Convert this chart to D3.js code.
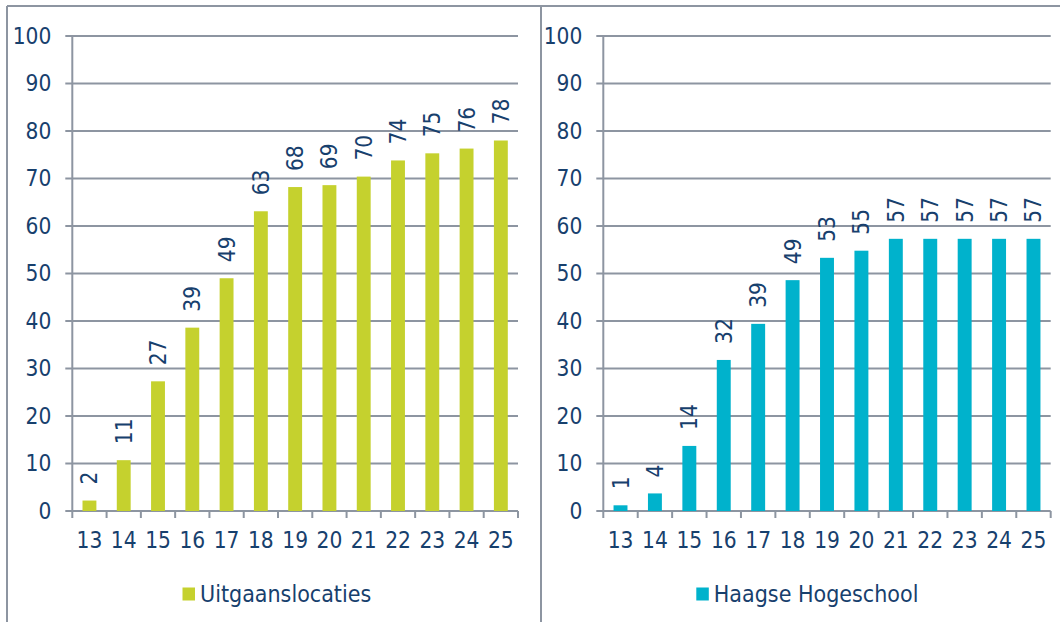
<!DOCTYPE html>
<html>
<head>
<meta charset="utf-8">
<script src="https://cdn.jsdelivr.net/npm/d3@7"></script>
<style>
  body { margin: 0; background: #fff; }
  svg text { font-family: "DejaVu Sans Condensed", "DejaVu Sans", Verdana, sans-serif; fill: #17406d; }
</style>
</head>
<body>
<script>
// hours of the day
const hours = ['13', '14', '15', '16', '17', '18', '19', '20', '21', '22', '23', '24', '25']

// cumulative percentages per series
const uitgaan = [2.2, 10.7, 27.3, 38.6, 49.0, 63.1, 68.2, 68.6, 70.4, 73.8, 75.3, 76.3, 78.0]
const hogeschool = [1.2, 3.7, 13.7, 31.8, 39.4, 48.6, 53.3, 54.8, 57.3, 57.3, 57.3, 57.3, 57.3]

const seriesNames = ['Uitgaanslocaties', 'Haagse Hogeschool']
const yTicks = [0, 10, 20, 30, 40, 50, 60, 70, 80, 90, 100]

const w = 1060
const h = 622
const grid = '#8d95a1'
const fs = '22.5px'

const svg = d3.select('body')
    .append('svg')
    .attr('width', w)
    .attr('height', h)

// frame lines
svg.append('line').attr('x1', 7).attr('x2', w).attr('y1', 6).attr('y2', 6)
    .style('stroke', grid).style('stroke-width', 2)
svg.append('line').attr('x1', 7).attr('x2', 7).attr('y1', 6).attr('y2', h)
    .style('stroke', grid).style('stroke-width', 2)
svg.append('line').attr('x1', 541).attr('x2', 541).attr('y1', 6).attr('y2', h)
    .style('stroke', grid).style('stroke-width', 2)

const y = d3.scaleLinear().domain([0, 100]).range([511, 36])

const panels = [
    { values: uitgaan, name: seriesNames[0], color: '#c5d12e', x0: 72.3, x1: 518, legendX: 182.5 },
    { values: hogeschool, name: seriesNames[1], color: '#00b2cc', x0: 603.3, x1: 1050.7, legendX: 696.3 }
]

panels.forEach(p => drawPanel(p))

function drawPanel(p) {
    const x = d3.scaleBand()
        .domain(hours)
        .range([p.x0, p.x1])
        .paddingInner(0.595)
        .paddingOuter(0.2975)
    const g = svg.append('g')

    // gridlines
    g.selectAll('.grid')
        .data(yTicks)
        .enter()
        .append('line')
        .attr('x1', p.x0 - 7)
        .attr('x2', p.x1)
        .attr('y1', d => y(d))
        .attr('y2', d => y(d))
        .style('stroke', grid)
        .style('stroke-width', 2)

    // y axis labels
    const yAxis = g.append('g')
        .attr('transform', `translate(${p.x0},0)`)
        .call(d3.axisLeft(y).tickValues(yTicks).tickSize(0).tickPadding(21))
    yAxis.select('.domain').remove()
    yAxis.selectAll('text').style('font-size', fs).style('fill', '#17406d')

    // y axis line
    g.append('line')
        .attr('x1', p.x0).attr('x2', p.x0)
        .attr('y1', y(100)).attr('y2', y(0))
        .style('stroke', grid).style('stroke-width', 2)

    // x axis
    const step = (p.x1 - p.x0) / hours.length
    g.selectAll('.xtick')
        .data(d3.range(hours.length + 1))
        .enter()
        .append('line')
        .attr('x1', d => p.x0 + d * step)
        .attr('x2', d => p.x0 + d * step)
        .attr('y1', y(0))
        .attr('y2', y(0) + 7)
        .style('stroke', grid)
        .style('stroke-width', 2)

    const xAxis = g.append('g')
        .attr('transform', `translate(0,${y(0)})`)
        .call(d3.axisBottom(x).tickSize(0))
    xAxis.select('.domain').remove()
    xAxis.selectAll('text')
        .attr('y', 37)
        .attr('dy', 0)
        .style('font-size', fs)
        .style('fill', '#17406d')

    // bars
    g.selectAll('rect')
        .data(p.values)
        .enter()
        .append('rect')
        .attr('x', (d, i) => x(hours[i]))
        .attr('width', x.bandwidth())
        .attr('y', d => y(d))
        .attr('height', d => y(0) - y(d))
        .style('fill', p.color)

    // data labels
    g.selectAll('.lbl')
        .data(p.values)
        .enter()
        .append('text')
        .attr('transform', (d, i) =>
            `translate(${x(hours[i]) + x.bandwidth() / 2 + 8},${y(d) - 16}) rotate(-90)`)
        .style('font-size', fs)
        .text(d => Math.round(d))

    // legend
    g.append('rect')
        .attr('x', p.legendX)
        .attr('y', 587.5)
        .attr('width', 12.5)
        .attr('height', 13)
        .style('fill', p.color)
    g.append('text')
        .attr('x', p.legendX + 17.5)
        .attr('y', 601.5)
        .style('font-size', '23px')
        .text(p.name)
}
</script>
</body>
</html>
